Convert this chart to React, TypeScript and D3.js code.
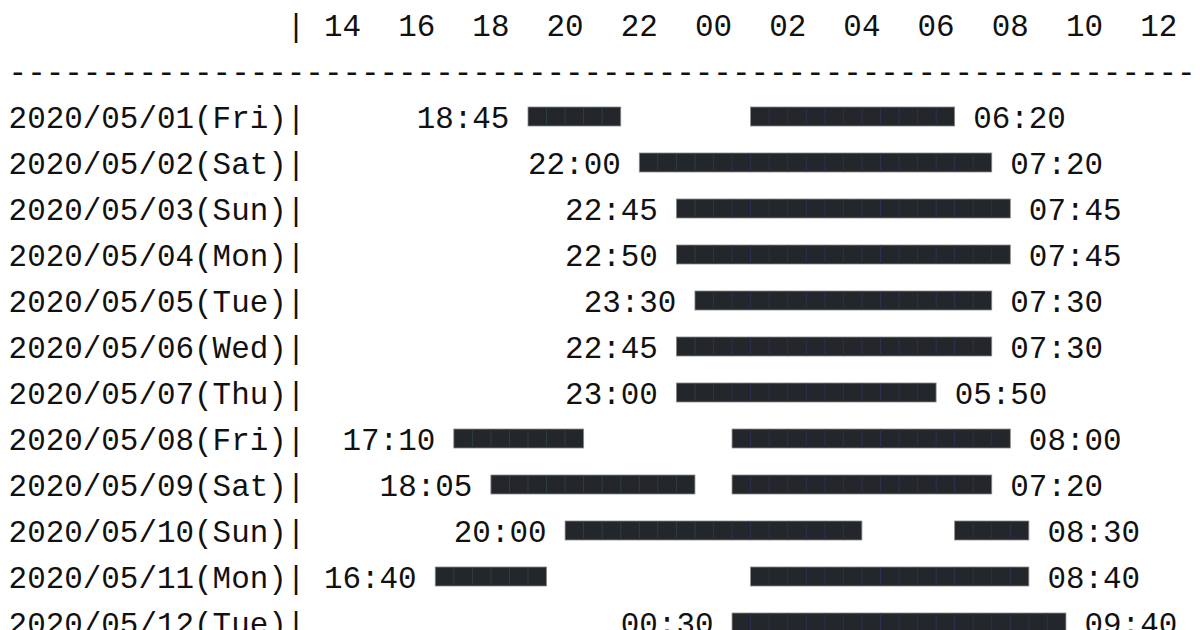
import React from 'react';
import * as d3 from 'd3';

// rows of the sleep log
const dates = [
  '2020/05/01(Fri)',
  '2020/05/02(Sat)',
  '2020/05/03(Sun)',
  '2020/05/04(Mon)',
  '2020/05/05(Tue)',
  '2020/05/06(Wed)',
  '2020/05/07(Thu)',
  '2020/05/08(Fri)',
  '2020/05/09(Sat)',
  '2020/05/10(Sun)',
  '2020/05/11(Mon)',
  '2020/05/12(Tue)',
];

// sleep segments for each day, [fell asleep, woke up]
const segments: [string, string][][] = [
  [['18:45', '21:30'], ['01:00', '06:20']],
  [['22:00', '07:20']],
  [['22:45', '07:45']],
  [['22:50', '07:45']],
  [['23:30', '07:30']],
  [['22:45', '07:30']],
  [['23:00', '05:50']],
  [['17:10', '20:30'], ['00:30', '08:00']],
  [['18:05', '23:30'], ['00:30', '07:20']],
  [['20:00', '04:00'], ['06:30', '08:30']],
  [['16:40', '19:30'], ['01:00', '08:40']],
  [['00:30', '09:40']],
];

const hourTicks = ['14', '16', '18', '20', '22', '00', '02', '04', '06', '08', '10', '12'];

const WIDTH = 1200;
const HEIGHT = 630;
const CHAR_W = 18.55; // monospace advance
const FONT_SIZE = CHAR_W / 0.6;
const LEFT = 8.6;
const PITCH = 46;
const HEADER_BASE = 36;
const FONT = '"Liberation Mono", "DejaVu Sans Mono", monospace';

// hours since 14:00 -> text column (one column = 30 minutes)
const hourToCol = d3.scaleLinear().domain([0, 24]).range([18, 66]);
// text column -> pixel x
const colToX = d3.scaleLinear().domain([0, 1]).range([LEFT, LEFT + CHAR_W]);
// line index -> baseline y
const lineToY = d3.scaleLinear().domain([0, 1]).range([HEADER_BASE, HEADER_BASE + PITCH]);

function timeToCol(t: string) {
  const [h, m] = t.split(':').map(Number);
  const since = ((h - 14 + 24) % 24) + m / 60;
  return Math.round(hourToCol(since));
}

const midnightCol = hourToCol(10);

export default function App() {
  const textStyle = { fontFamily: FONT, fontSize: FONT_SIZE, fill: '#111' };

  return (
    <svg
      width={WIDTH}
      height={HEIGHT}
      style={{ position: 'absolute', left: 0, top: 0, background: '#fff' }}
    >
      {/* header */}
      <text x={colToX(15)} y={lineToY(0)} style={textStyle}>|</text>
      {hourTicks.map((h, i) => (
        <text key={h + i} x={colToX(17 + i * 4)} y={lineToY(0)} style={textStyle}>
          {h}
        </text>
      ))}
      <text x={colToX(0)} y={lineToY(1)} style={textStyle}>
        {'-'.repeat(66)}
      </text>

      {dates.map((d, i) => {
        const base = lineToY(i + 2);
        const segs = segments[i];
        const firstCol = timeToCol(segs[0][0]);
        const lastCol = timeToCol(segs[segs.length - 1][1]);
        return (
          <g key={d}>
            <text x={colToX(0)} y={base} style={textStyle}>{d}</text>
            <text x={colToX(15)} y={base} style={textStyle}>|</text>
            <text x={colToX(firstCol - 6)} y={base} style={textStyle}>{segs[0][0]}</text>
            <text x={colToX(lastCol + 1)} y={base} style={textStyle}>{segs[segs.length - 1][1]}</text>
            {segs.map(([s, e], j) => {
              const c0 = timeToCol(s);
              const c1 = timeToCol(e);
              const cells = d3.range(c0, c1);
              return (
                <g key={j}>
                  <rect
                    x={colToX(c0)}
                    y={base - 21}
                    width={colToX(c1) - colToX(c0)}
                    height={19}
                    fill="#23262b"
                    stroke="#8a8a8a"
                    strokeWidth={0.8}
                  />
                  {cells.slice(1).map((c) => (
                    <line
                      key={c}
                      x1={colToX(c)}
                      x2={colToX(c)}
                      y1={base - 20.5}
                      y2={base - 2.5}
                      stroke={c < midnightCol ? '#2e4038' : '#2c3152'}
                      strokeWidth={1}
                    />
                  ))}
                </g>
              );
            })}
          </g>
        );
      })}
    </svg>
  );
}
